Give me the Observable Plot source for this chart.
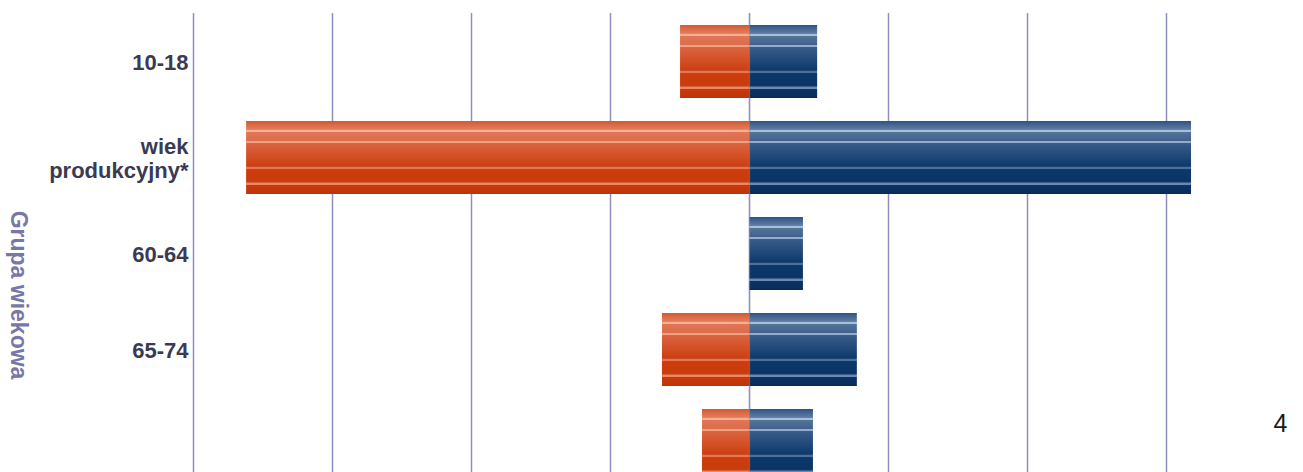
<!DOCTYPE html>
<html>
<head>
<meta charset="utf-8">
<script src="https://cdn.jsdelivr.net/npm/d3@7"></script>
<script src="https://cdn.jsdelivr.net/npm/@observablehq/plot@0.6"></script>
<style>
  html, body { margin: 0; padding: 0; background: #fff; overflow: hidden; }
  #chart { width: 1303px; height: 472px; overflow: hidden; }
</style>
</head>
<body>
<div id="chart"></div>
<script>
// Age groups (categories)
const categories = ["10-18", "wiek\nprodukcyjny*", "60-64", "65-74", "75+"];
// Left series (orange)
const leftValues = [2.48, 18.09, 0, 3.13, 1.69];
// Right series (blue)
const rightValues = [2.45, 15.90, 1.94, 3.88, 2.30];
// Vertical grid positions
const gridTicks = [-20, -15, -10, -5, 0, 5, 10, 15];
const axisTitle = "Grupa wiekowa";
const pageNumber = "4";

const leftRows = categories.map((c, i) => ({group: c, value: leftValues[i]}));
const rightRows = categories.map((c, i) => ({group: c, value: rightValues[i]}));

const ORANGE = "#d04010";
const BLUE = "#0a3a6c";
const GRID = "#9090c0";

const svg = Plot.plot({
  width: 1303,
  height: 494,
  marginTop: 13,
  marginBottom: 0,
  marginLeft: 193,
  marginRight: 137,
  style: {fontFamily: "'Liberation Sans', Arial, sans-serif", background: "white", overflow: "visible"},
  x: {domain: [-20, 15], axis: null},
  y: {domain: categories, paddingInner: 23 / 96, paddingOuter: 12 / 96, label: null},
  marks: [
    Plot.ruleX(gridTicks.filter(d => d !== 0), {stroke: GRID, strokeWidth: 1.5}),
    Plot.ruleX([0], {stroke: GRID, strokeWidth: 1.5}),
    Plot.barX(leftRows.filter(d => d.value > 0), {x1: 0, x2: d => -d.value, y: "group", fill: ORANGE}),
    Plot.barX(rightRows.filter(d => d.value > 0), {x1: 0, x2: "value", y: "group", fill: BLUE}),
    Plot.ruleX([0], {stroke: GRID, strokeWidth: 1.2, strokeOpacity: 0.55}),
    Plot.axisY({
      tickSize: 0,
      tickPadding: 5,
      fontSize: 22,
      fontWeight: "bold",
      fill: "#3a3a52",
      lineHeight: 1.13,
      label: null,
      tickFormat: d => d === "75+" ? "" : d
    }),
    Plot.text([axisTitle], {
      frameAnchor: "left",
      textAnchor: "middle",
      dx: -175,
      dy: 41,
      rotate: 90,
      fontSize: 23,
      fontWeight: "bold",
      fill: "#7878a8",
      text: d => d,
      style: {letterSpacing: "0.4px"}
    }),
    Plot.text([pageNumber], {
      frameAnchor: "bottom-right",
      dx: 121,
      dy: -63,
      fontSize: 25,
      fill: "#1a1a1a",
      text: d => d
    })
  ]
});

// Glossy gradients
const defs = d3.select(svg).insert("defs", ":first-child");
function addGradient(id, stops) {
  const g = defs.append("linearGradient").attr("id", id)
    .attr("x1", 0).attr("y1", 0).attr("x2", 0).attr("y2", 1);
  stops.forEach(([o, c]) => g.append("stop").attr("offset", o).attr("stop-color", c));
}
addGradient("gradOrange", [
  [0, "#d4582e"], [0.10, "#e27a58"], [0.115, "#e27a58"], [0.125, "#f2b096"], [0.145, "#f2b096"],
  [0.155, "#e07655"], [0.27, "#dd6c4a"], [0.275, "#eea284"], [0.295, "#eea284"], [0.305, "#db6442"],
  [0.62, "#cc3f10"], [0.635, "#e27656"], [0.655, "#e27656"], [0.665, "#cc3c0c"], [0.84, "#cb3c0c"],
  [0.845, "#e98666"], [0.87, "#e98666"], [0.875, "#c83a0c"], [1, "#bb3508"]
]);
addGradient("gradBlue", [
  [0, "#2f5280"], [0.10, "#5878a0"], [0.115, "#5878a0"], [0.125, "#a8bfd8"], [0.145, "#a8bfd8"],
  [0.155, "#52729a"], [0.27, "#40628e"], [0.275, "#93acca"], [0.295, "#93acca"], [0.305, "#3a5c88"],
  [0.62, "#0c3a6c"], [0.635, "#4e6e98"], [0.655, "#4e6e98"], [0.665, "#0b386a"], [0.84, "#0a3566"],
  [0.845, "#6a88ae"], [0.87, "#6a88ae"], [0.875, "#0a3464"], [1, "#082c5a"]
]);
d3.select(svg).selectAll(`[fill="${ORANGE}"]`).attr("fill", "url(#gradOrange)");
d3.select(svg).selectAll(`[fill="${BLUE}"]`).attr("fill", "url(#gradBlue)");

document.getElementById("chart").appendChild(svg);
</script>
</body>
</html>
